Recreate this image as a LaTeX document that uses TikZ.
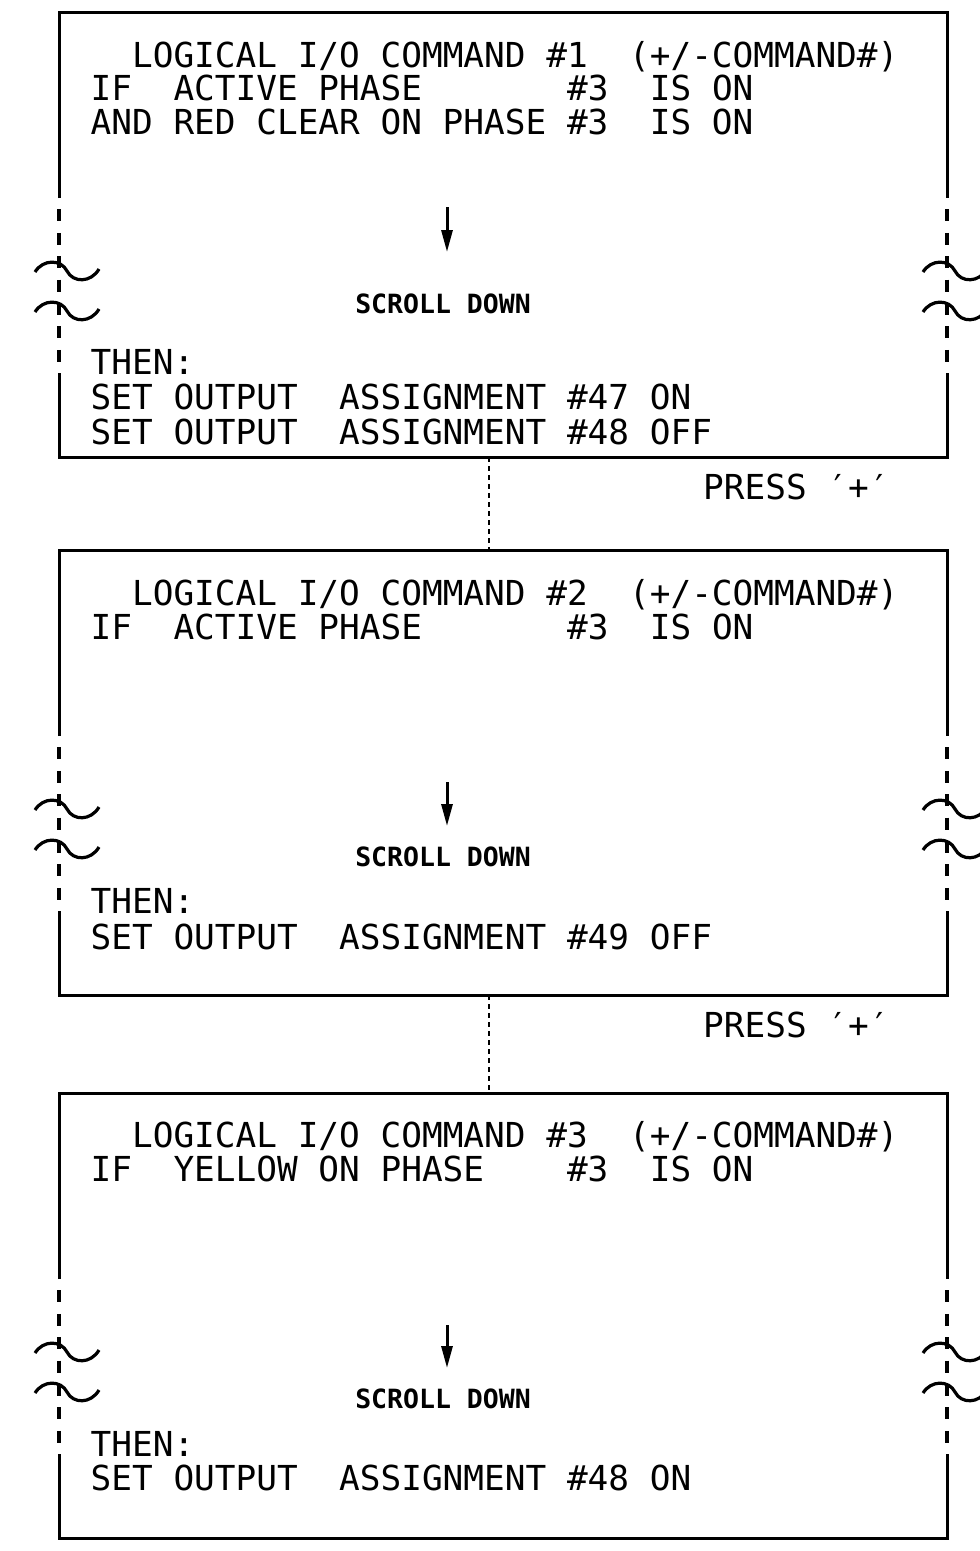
\documentclass[tikz,border=0pt]{standalone}
\usepackage{fontspec}
\newfontfamily\cadfont{DejaVu Sans Mono}
\usetikzlibrary{arrows.meta,calc}
\tikzset{
  side/.style={line width=3pt},
  brk/.style={line width=3.2pt, dash pattern=on 12pt off 11.4pt},
  tld/.style={line width=3.2pt},
  conn/.style={line width=2.4pt, dash pattern=on 5pt off 4pt},
  txt/.style={anchor=base west, inner sep=0pt, font=\cadfont\fontsize{34.4}{40}\selectfont},
  scr/.style={anchor=center, inner sep=0pt, font=\cadfont\bfseries\fontsize{26.5}{30}\selectfont},
  scrollarrow/.style={line width=3pt, -{Triangle[width=11pt,length=22pt]}},
  boxframe/.style={minimum width=888pt, minimum height=445pt, anchor=north west, inner sep=0pt, outer sep=0pt},
  tilde/.pic={\draw[tld] (-24,1) .. controls (-16,-12) and (2,-12) .. (8,0) .. controls (14,12) and (32,12) .. (40,-2);}
}
\begin{document}
\begin{tikzpicture}[x=1pt,y=-1pt]
\useasboundingbox (0,0) rectangle (980,1551);
\foreach \t/\n in {12/1,550/2,1093/3}{
  \begin{scope}[shift={(0,\t)}]
    \node[boxframe] (b\n) at (59,0) {};
    \draw[side] ($(b\n.north west)+(0,186)$) -- (b\n.north west) -- (b\n.north east) -- ($(b\n.north east)+(0,186)$);
    \draw[side] ($(b\n.south west)+(0,-84)$) -- (b\n.south west) -- (b\n.south east) -- ($(b\n.south east)+(0,-84)$);
    \draw[brk] ($(b\n.north west)+(0,197.4)$) -- ($(b\n.north west)+(0,349.6)$);
    \draw[brk] ($(b\n.north east)+(0,197.4)$) -- ($(b\n.north east)+(0,349.6)$);
    \pic at ($(b\n.north west)+(0,259)$) {tilde};
    \pic at ($(b\n.north west)+(0,299)$) {tilde};
    \pic at ($(b\n.north east)+(0,259)$) {tilde};
    \pic at ($(b\n.north east)+(0,299)$) {tilde};
  \end{scope}
}
% box 1
\node[txt] (t1a) at (90.5,67.5) {~~LOGICAL~I/O~COMMAND~\#1~~(+/-COMMAND\#)};
\node[txt] (t1b) at (90.5,100.5) {IF~~ACTIVE~PHASE~~~~~~~\#3~~IS~ON};
\node[txt] (t1c) at (90.5,134.5) {AND~RED~CLEAR~ON~PHASE~\#3~~IS~ON};
\draw[scrollarrow] (447,207) coordinate (a1s) -- (447,252) coordinate (a1e);
\node[scr] (s1) at (443,304) {SCROLL~DOWN};
\node[txt] (t1d) at (90.5,374.5) {THEN:};
\node[txt] (t1e) at (90.5,409.5) {SET~OUTPUT~~ASSIGNMENT~\#47~ON};
\node[txt] (t1f) at (90.5,444.5) {SET~OUTPUT~~ASSIGNMENT~\#48~OFF};
\node[txt] (p1) at (703,499.5) {PRESS~′+′};
\draw[conn] ([xshift=-14pt]b1.south) -- ([xshift=-14pt]b2.north);
% box 2
\node[txt] (t2a) at (90.5,605.5) {~~LOGICAL~I/O~COMMAND~\#2~~(+/-COMMAND\#)};
\node[txt] (t2b) at (90.5,639.5) {IF~~ACTIVE~PHASE~~~~~~~\#3~~IS~ON};
\draw[scrollarrow] (447,782) coordinate (a2s) -- (447,826) coordinate (a2e);
\node[scr] (s2) at (443,857) {SCROLL~DOWN};
\node[txt] (t2d) at (90.5,913.5) {THEN:};
\node[txt] (t2e) at (90.5,949.5) {SET~OUTPUT~~ASSIGNMENT~\#49~OFF};
\node[txt] (p2) at (703,1037.5) {PRESS~′+′};
\draw[conn] ([xshift=-14pt]b2.south) -- ([xshift=-14pt]b3.north);
% box 3
\node[txt] (t3a) at (90.5,1147.5) {~~LOGICAL~I/O~COMMAND~\#3~~(+/-COMMAND\#)};
\node[txt] (t3b) at (90.5,1181.5) {IF~~YELLOW~ON~PHASE~~~~\#3~~IS~ON};
\draw[scrollarrow] (447,1325) coordinate (a3s) -- (447,1368) coordinate (a3e);
\node[scr] (s3) at (443,1399) {SCROLL~DOWN};
\node[txt] (t3d) at (90.5,1456.5) {THEN:};
\node[txt] (t3e) at (90.5,1490.5) {SET~OUTPUT~~ASSIGNMENT~\#48~ON};
\end{tikzpicture}
\end{document}
